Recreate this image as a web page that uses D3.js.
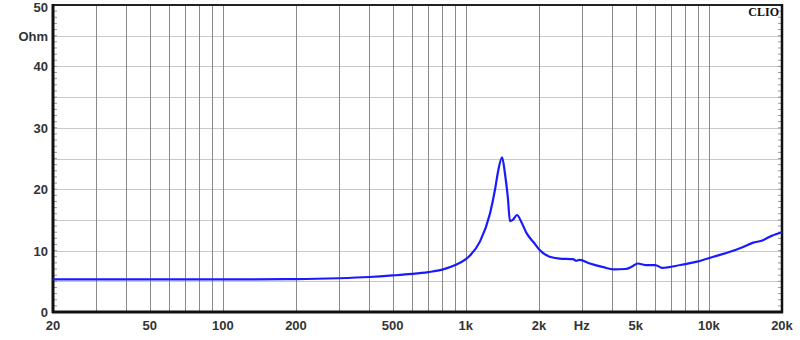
<!DOCTYPE html>
<html>
<head>
<meta charset="utf-8">
<script src="https://cdn.jsdelivr.net/npm/d3@7"></script>
<style>
  body { margin: 0; background: #fff; }
  svg text { font-family: "Liberation Sans", Arial, sans-serif; }
</style>
</head>
<body>
<script>
// impedance curve
const freqs = [20, 50, 100, 200, 300, 400, 500, 600, 700, 800, 900, 1000, 1040, 1144, 1258, 1318, 1360, 1410,
  1448, 1490, 1518, 1560, 1624, 1690, 1780, 1896, 2012, 2212, 2432, 2760, 2850, 2940, 3240, 3680, 4060,
  4530, 4830, 5100, 5480, 6020, 6420, 7630, 8930, 10440, 12220, 13840, 15220, 16480, 18120, 20000];
const ohms = [5.3, 5.3, 5.3, 5.35, 5.5, 5.7, 5.95, 6.2, 6.5, 6.9, 7.6, 8.6, 9.2, 11.5, 16.1, 19.9, 23.1, 25.2,
  22.6, 18.5, 14.8, 15.0, 15.8, 14.7, 12.8, 11.4, 10.1, 9.0, 8.7, 8.6, 8.35, 8.5, 7.9, 7.3, 6.95,
  7.0, 7.4, 7.9, 7.65, 7.65, 7.2, 7.65, 8.2, 9.0, 9.8, 10.6, 11.3, 11.6, 12.4, 13.0];

const xTicks = [20, 50, 100, 200, 500, 1000, 2000, 3000, 5000, 10000, 20000];
const xTickLabels = ["20", "50", "100", "200", "500", "1k", "2k", "Hz", "5k", "10k", "20k"];
const yTicks = [0, 10, 20, 30, 40, 50];
const yUnit = "Ohm";

const w = 800, h = 340;
const pLeft = 53, pRight = 782, pTop = 5, pBottom = 312;

const svg = d3.select("body").append("svg").attr("width", w).attr("height", h);

const x = d3.scaleLog().domain([20, 20000]).range([pLeft, pRight]);
const y = d3.scaleLinear().domain([0, 50]).range([pBottom, pTop]);

// grid lines
const vGrid = [];
[10, 100, 1000, 10000].forEach(dec => {
  for (let k = 1; k <= 9; k++) {
    const f = dec * k;
    if (f > 20 && f < 20000) vGrid.push(f);
  }
});
svg.append("g").selectAll("line").data(d3.range(5, 50, 5)).enter()
  .append("line")
  .attr("x1", pLeft).attr("x2", pRight)
  .attr("y1", d => Math.round(y(d)) + 0.5).attr("y2", d => Math.round(y(d)) + 0.5)
  .attr("stroke", "#c8c8c8").attr("stroke-width", 1);
svg.append("g").selectAll("line").data(vGrid).enter()
  .append("line")
  .attr("x1", d => Math.round(x(d)) + 0.5).attr("x2", d => Math.round(x(d)) + 0.5)
  .attr("y1", pTop).attr("y2", pBottom)
  .attr("stroke", "#8a8a8a").attr("stroke-width", 1);

// minor ticks on left and right
const minor = d3.range(1, 50);
svg.append("g").selectAll("line").data(minor).enter()
  .append("line")
  .attr("x1", pLeft).attr("x2", pLeft + 4)
  .attr("y1", d => y(d)).attr("y2", d => y(d))
  .attr("stroke", "#999").attr("stroke-width", 1);
svg.append("g").selectAll("line").data(minor).enter()
  .append("line")
  .attr("x1", pRight - 4).attr("x2", pRight)
  .attr("y1", d => y(d)).attr("y2", d => y(d))
  .attr("stroke", "#999").attr("stroke-width", 1);

// frame
svg.append("rect")
  .attr("x", pLeft).attr("y", pTop).attr("width", pRight - pLeft).attr("height", pBottom - pTop)
  .attr("fill", "none").attr("stroke", "#222").attr("stroke-width", 2);
svg.append("line").attr("x1", pLeft).attr("x2", pLeft).attr("y1", pTop - 1).attr("y2", pBottom + 1)
  .attr("stroke", "#111").attr("stroke-width", 3);
svg.append("line").attr("x1", pLeft - 1).attr("x2", pRight + 1).attr("y1", pBottom).attr("y2", pBottom)
  .attr("stroke", "#111").attr("stroke-width", 3);
svg.append("line").attr("x1", pRight).attr("x2", pRight).attr("y1", pTop - 1).attr("y2", pBottom + 1)
  .attr("stroke", "#111").attr("stroke-width", 2.5);

// curve
const line = d3.line()
  .x((d, i) => x(freqs[i]))
  .y(d => y(d))
  .curve(d3.curveMonotoneX);
svg.append("path")
  .datum(ohms)
  .attr("d", line)
  .attr("fill", "none")
  .attr("stroke", "#1a1aff")
  .attr("stroke-width", 2.2)
  .attr("stroke-linejoin", "round");

// tick labels
svg.append("g").selectAll("text").data(yTicks).enter()
  .append("text")
  .attr("x", pLeft - 5).attr("y", d => Math.max(y(d) + 5, 12))
  .attr("text-anchor", "end")
  .attr("font-size", 13).attr("font-weight", "bold").attr("fill", "#333")
  .text(d => d);
svg.append("text")
  .attr("x", pLeft - 5).attr("y", y(45) + 5)
  .attr("text-anchor", "end")
  .attr("font-size", 13).attr("font-weight", "bold").attr("fill", "#333")
  .text(yUnit);
svg.append("g").selectAll("text").data(xTicks).enter()
  .append("text")
  .attr("x", d => x(d)).attr("y", 330)
  .attr("text-anchor", "middle")
  .attr("font-size", 13).attr("font-weight", "bold").attr("fill", "#333")
  .text((d, i) => xTickLabels[i]);

svg.append("text")
  .attr("x", pRight - 3).attr("y", 16)
  .attr("text-anchor", "end")
  .style("font-family", "'Liberation Serif', 'DejaVu Serif', serif")
  .attr("font-size", 12).attr("font-weight", "bold").attr("fill", "#111")
  .text("CLIO");
</script>
</body>
</html>
